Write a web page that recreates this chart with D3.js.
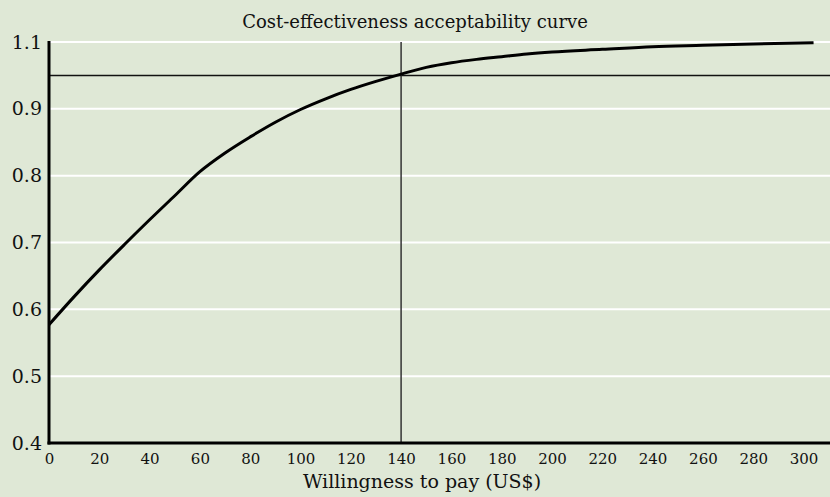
<!DOCTYPE html>
<html>
<head>
<meta charset="utf-8">
<script src="https://cdn.jsdelivr.net/npm/d3@7"></script>
<style>
	body { margin: 0; background: #dfe8d6; }
	svg { display: block; }
	text { font-family: "DejaVu Serif", serif; fill: #111; }
</style>
</head>
<body>
<svg id="chart" width="830" height="497"></svg>
<script>
// Willingness to pay (US$) and probability of being cost-effective
var wtp  = [0, 10, 20, 30, 40, 50, 60, 70, 80, 90, 100, 110, 120, 130, 140, 150, 160, 170, 180, 190, 200, 220, 240, 260, 280, 304]
var prob = [0.577, 0.619, 0.659, 0.697, 0.734, 0.770, 0.806, 0.834, 0.858, 0.880, 0.899, 0.915, 0.929, 0.941, 0.952, 0.962, 0.969, 0.974, 0.978, 0.982, 0.985, 0.989, 0.993, 0.995, 0.997, 0.999]

// Axis ticks (the top label reads 1.1 in the original)
var xTicks = [0, 20, 40, 60, 80, 100, 120, 140, 160, 180, 200, 220, 240, 260, 280, 300]
var yTicks = [0.4, 0.5, 0.6, 0.7, 0.8, 0.9, 1.0]
var yTickLabels = ["0.4", "0.5", "0.6", "0.7", "0.8", "0.9", "1.1"]

// Reference lines
var threshold = 0.95
var wtpMark = 140

var svg = d3.select("#chart")
var margin = {top: 42, right: 0, bottom: 54, left: 49}
var width = +svg.attr("width") - margin.left - margin.right
var height = +svg.attr("height") - margin.top - margin.bottom

var x = d3.scaleLinear().domain([0, 300]).range([margin.left, margin.left + 754.5])
var y = d3.scaleLinear().domain([0.4, 1.0]).range([margin.top + height, margin.top])

// Gridlines
svg.append("g")
	.selectAll("line")
	.data(yTicks.slice(1))
	.enter().append("line")
		.attr("x1", margin.left).attr("x2", margin.left + width)
		.attr("y1", function(d) { return y(d) }).attr("y2", function(d) { return y(d) })
		.style("stroke", "#fff")
		.style("stroke-width", 2)

// Title
svg.append("text")
	.attr("x", 415)
	.attr("y", 28)
	.attr("text-anchor", "middle")
	.style("font-size", "18px")
	.text("Cost-effectiveness acceptability curve")

// Threshold and WTP lines
svg.append("line")
	.attr("x1", margin.left).attr("x2", margin.left + width)
	.attr("y1", y(threshold)).attr("y2", y(threshold))
	.style("stroke", "#111")
	.style("stroke-width", 1.5)
svg.append("line")
	.attr("x1", x(wtpMark)).attr("x2", x(wtpMark))
	.attr("y1", y(1.0)).attr("y2", y(0.4))
	.style("stroke", "#333")
	.style("stroke-width", 1.5)

// Curve
var line = d3.line()
	.curve(d3.curveMonotoneX)
	.x(function(d, i) { return x(wtp[i]) })
	.y(function(d) { return y(d) })

svg.append("path")
	.datum(prob)
	.attr("d", line)
	.style("fill", "none")
	.style("stroke", "#000")
	.style("stroke-width", 3)

// Axes
var xAxis = svg.append("g")
	.attr("transform", "translate(0," + y(0.4) + ")")
	.call(d3.axisBottom(x).tickValues(xTicks).tickSize(0).tickPadding(10))
xAxis.select(".domain").remove()
xAxis.selectAll("text").style("font-size", "15px").style("font-family", "DejaVu Serif")
svg.append("line")
	.attr("x1", margin.left - 1.5).attr("x2", margin.left + width)
	.attr("y1", y(0.4)).attr("y2", y(0.4))
	.style("stroke", "#000")
	.style("stroke-width", 3)

var yAxis = svg.append("g")
	.attr("transform", "translate(" + margin.left + ",0)")
	.call(d3.axisLeft(y).tickValues(yTicks).tickSize(0).tickPadding(7)
		.tickFormat(function(d, i) { return yTickLabels[i] }))
yAxis.select(".domain").remove()
yAxis.selectAll("text").style("font-size", "19px").style("font-family", "DejaVu Serif")
svg.append("line")
	.attr("x1", margin.left).attr("x2", margin.left)
	.attr("y1", y(1.0) - 1).attr("y2", y(0.4) + 1.5)
	.style("stroke", "#000")
	.style("stroke-width", 3)

// Axis title
svg.append("text")
	.attr("x", 422)
	.attr("y", 488)
	.attr("text-anchor", "middle")
	.style("font-size", "19px")
	.text("Willingness to pay (US$)")
</script>
</body>
</html>
